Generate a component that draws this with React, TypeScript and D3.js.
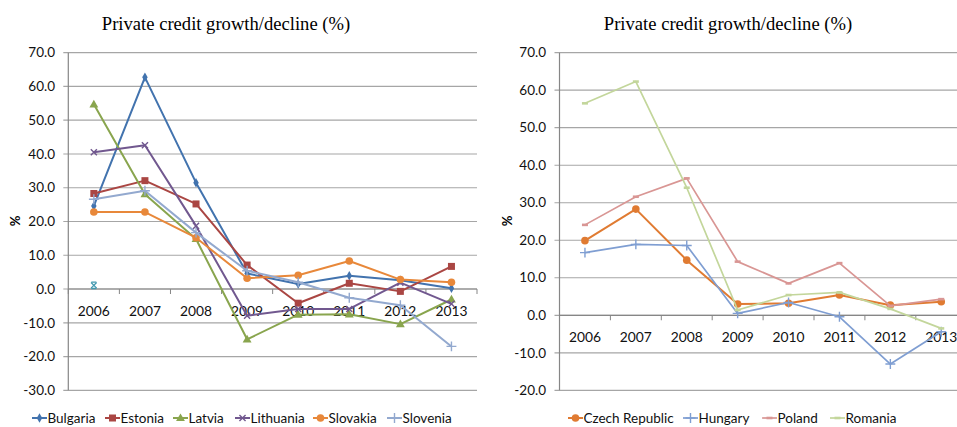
import React from 'react';
import * as d3 from 'd3';

// Years shown on both panels
const years = ['2006', '2007', '2008', '2009', '2010', '2011', '2012', '2013'];

// Left panel: Baltic and other CEE economies (% change)
const bulgaria = [24.6, 62.7, 31.5, 4.6, 1.5, 3.9, 2.6, 0.2];
const estonia = [28.3, 32.1, 25.2, 7.1, -4.2, 1.7, -0.7, 6.7];
const latvia = [54.7, 28.1, 14.8, -14.9, -7.6, -7.5, -10.4, -3.1];
const lithuania = [40.5, 42.6, 18.7, -7.9, -5.9, -5.9, 1.9, -4.4];
const slovakia = [22.8, 22.8, 15.2, 3.2, 4.1, 8.3, 2.8, 2.0];
const slovenia = [26.6, 29.1, 16.7, 5.4, 2.0, -2.6, -4.8, -17.0];
const extraPoint = [1.1, null, null, null, null, null, null, null];

// Right panel
const czechRepublic = [19.9, 28.3, 14.7, 3.0, 3.2, 5.4, 2.7, 3.6];
const hungary = [16.7, 18.9, 18.6, 0.5, 3.4, -0.4, -13.0, -4.4];
const poland = [24.1, 31.6, 36.5, 14.3, 8.5, 13.9, 2.5, 4.3];
const romania = [56.5, 62.3, 34.0, 1.4, 5.4, 6.1, 1.7, -3.5];

const leftTicks = [70, 60, 50, 40, 30, 20, 10, 0, -10, -20, -30];
const rightTicks = [70, 60, 50, 40, 30, 20, 10, 0, -10, -20];

const TITLE = 'Private credit growth/decline (%)';

type Marker = 'diamond' | 'square' | 'triangle' | 'x' | 'circle' | 'plus' | 'dash' | 'asterisk';

interface Series {
  name: string;
  values: (number | null)[];
  color: string;
  marker: Marker;
  width: number;
  legend: boolean;
  legendX?: number;
}

const leftSeries: Series[] = [
  { name: 'Bulgaria', values: bulgaria, color: '#4273AE', marker: 'diamond', width: 2, legend: true, legendX: 32 },
  { name: 'Estonia', values: estonia, color: '#AA4643', marker: 'square', width: 2, legend: true, legendX: 105 },
  { name: 'Latvia', values: latvia, color: '#89A54E', marker: 'triangle', width: 2, legend: true, legendX: 173 },
  { name: 'Lithuania', values: lithuania, color: '#71588F', marker: 'x', width: 2, legend: true, legendX: 235 },
  { name: 'Slovakia', values: slovakia, color: '#E8883A', marker: 'circle', width: 2, legend: true, legendX: 313 },
  { name: 'Slovenia', values: slovenia, color: '#93A9CF', marker: 'plus', width: 2, legend: true, legendX: 387 },
  { name: 'Other', values: extraPoint, color: '#4198AF', marker: 'asterisk', width: 2, legend: false },
];

const rightSeries: Series[] = [
  { name: 'Czech Republic', values: czechRepublic, color: '#E07B32', marker: 'circle', width: 2, legend: true, legendX: 568 },
  { name: 'Hungary', values: hungary, color: '#7F9ED2', marker: 'plus', width: 1.7, legend: true, legendX: 683 },
  { name: 'Poland', values: poland, color: '#D99694', marker: 'dash', width: 1.7, legend: true, legendX: 762 },
  { name: 'Romania', values: romania, color: '#C3D69B', marker: 'dash', width: 1.7, legend: true, legendX: 830 },
];

const FONT = 'Lato, "Open Sans", sans-serif';

function MarkerShape({ kind, x, y, color }: { kind: Marker; x: number; y: number; color: string }) {
  switch (kind) {
    case 'diamond':
      return <path d={d3.symbol(d3.symbolDiamond, 26)()!} transform={`translate(${x},${y})`} fill={color} />;
    case 'square':
      return <rect x={x - 3.5} y={y - 3.5} width={7} height={7} fill={color} />;
    case 'triangle':
      return <path d={d3.symbol(d3.symbolTriangle, 34)()!} transform={`translate(${x},${y + 0.5})`} fill={color} />;
    case 'circle':
      return <circle cx={x} cy={y} r={3.8} fill={color} />;
    case 'x':
      return <path d={d3.symbol(d3.symbolX, 26)()!} transform={`translate(${x},${y})`} fill="none" stroke={color} strokeWidth={1.4} />;
    case 'plus':
      return <path d={d3.symbol(d3.symbolPlus, 34)()!} transform={`translate(${x},${y})`} fill="none" stroke={color} strokeWidth={1.4} />;
    case 'asterisk':
      return (
        <g transform={`translate(${x},${y})`} stroke={color} strokeWidth={1.3} fill="none">
          <path d={d3.symbol(d3.symbolX, 22)()!} />
          <path d="M-2.5,-3.2H2.5M-2.5,3.2H2.5" />
        </g>
      );
    case 'dash':
      return <path d={`M${x - 3},${y}H${x + 3}`} stroke={color} strokeWidth={2.6} />;
  }
  return null;
}

interface PanelProps {
  series: Series[];
  ticks: number[];
  yDomain: [number, number];
  xRange: [number, number];
  titleX: number;
  pctX: number;
  tickLabelRight: number;
}

function Panel({ series, ticks, yDomain, xRange, titleX, pctX, tickLabelRight }: PanelProps) {
  const top = 52.7;
  const bottom = 390.3;
  const y = d3.scaleLinear().domain(yDomain).range([bottom, top]);
  const x = d3.scaleBand<string>().domain(years).range(xRange);
  const cx = (yr: string) => (x(yr) ?? 0) + x.bandwidth() / 2;
  const [x0, x1] = xRange;
  const zeroY = y(0);
  const boundaries = d3.range(years.length + 1).map((i) => x0 + i * x.step());

  const line = d3
    .line<number | null>()
    .defined((d) => d !== null)
    .x((_, i) => cx(years[i]))
    .y((d) => y(d as number));

  return (
    <g>
      <text x={titleX} y={30} textAnchor="middle" fontFamily='"Liberation Serif", "Times New Roman", serif' fontSize={18.6} fill="#000">
        {TITLE}
      </text>

      {/* horizontal gridlines with outside tick stubs */}
      {ticks.map((t) => (
        <g key={t}>
          <line x1={x0 - 5} x2={x1} y1={y(t)} y2={y(t)} stroke="#A6A6A6" strokeWidth={1.2} />
          <text
            x={tickLabelRight}
            y={y(t)}
            dy="0.35em"
            textAnchor="end"
            fontFamily={FONT}
            fontSize={13.5}
            fill="#111"
          >
            {t.toFixed(1)}
          </text>
        </g>
      ))}

      {/* value axis */}
      <line x1={x0} x2={x0} y1={top} y2={bottom} stroke="#868686" strokeWidth={1.2} />

      {/* category axis on zero */}
      <line x1={x0} x2={x1} y1={zeroY} y2={zeroY} stroke="#868686" strokeWidth={1.2} />
      {boundaries.map((b, i) => (
        <line key={i} x1={b} x2={b} y1={zeroY} y2={zeroY + 5} stroke="#868686" strokeWidth={1} />
      ))}
      {years.map((yr) => (
        <text key={yr} x={cx(yr)} y={zeroY + 22} dy="0.35em" textAnchor="middle" fontFamily={FONT} fontSize={13.8} fill="#111">
          {yr}
        </text>
      ))}

      <text
        transform={`translate(${pctX},221) rotate(-90)`}
        textAnchor="middle"
        dy="0.35em"
        fontFamily={FONT}
        fontWeight="bold"
        fontSize={13}
        fill="#000"
      >
        %
      </text>

      {series.map((s) => (
        <g key={s.name}>
          <path d={line(s.values) ?? ''} fill="none" stroke={s.color} strokeWidth={s.width} strokeLinejoin="round" />
          {s.values.map((v, i) =>
            v === null ? null : <MarkerShape key={i} kind={s.marker} x={cx(years[i])} y={y(v)} color={s.color} />
          )}
        </g>
      ))}

      {/* legend */}
      {series
        .filter((s) => s.legend)
        .map((s) => {
          const lx = s.legendX ?? 0;
          const ly = 418;
          return (
            <g key={s.name}>
              <line x1={lx} x2={lx + 15} y1={ly} y2={ly} stroke={s.color} strokeWidth={s.width} />
              <MarkerShape kind={s.marker} x={lx + 7.5} y={ly} color={s.color} />
              <text x={lx + 15.5} y={ly} dy="0.35em" fontFamily={FONT} fontSize={13.5} fill="#111">
                {s.name}
              </text>
            </g>
          );
        })}
    </g>
  );
}

export default function App() {
  return (
    <svg
      width={957}
      height={427}
      viewBox="0 0 957 427"
      style={{ position: 'absolute', left: 0, top: 0, background: '#fff', overflow: 'hidden' }}
    >
      <rect width={957} height={427} fill="#fff" />
      <Panel
        series={leftSeries}
        ticks={leftTicks}
        yDomain={[-30, 70]}
        xRange={[68.3, 477]}
        titleX={226}
        pctX={15}
        tickLabelRight={55}
      />
      <Panel
        series={rightSeries}
        ticks={rightTicks}
        yDomain={[-20, 70]}
        xRange={[559.5, 966.7]}
        titleX={728}
        pctX={507}
        tickLabelRight={546}
      />
    </svg>
  );
}
